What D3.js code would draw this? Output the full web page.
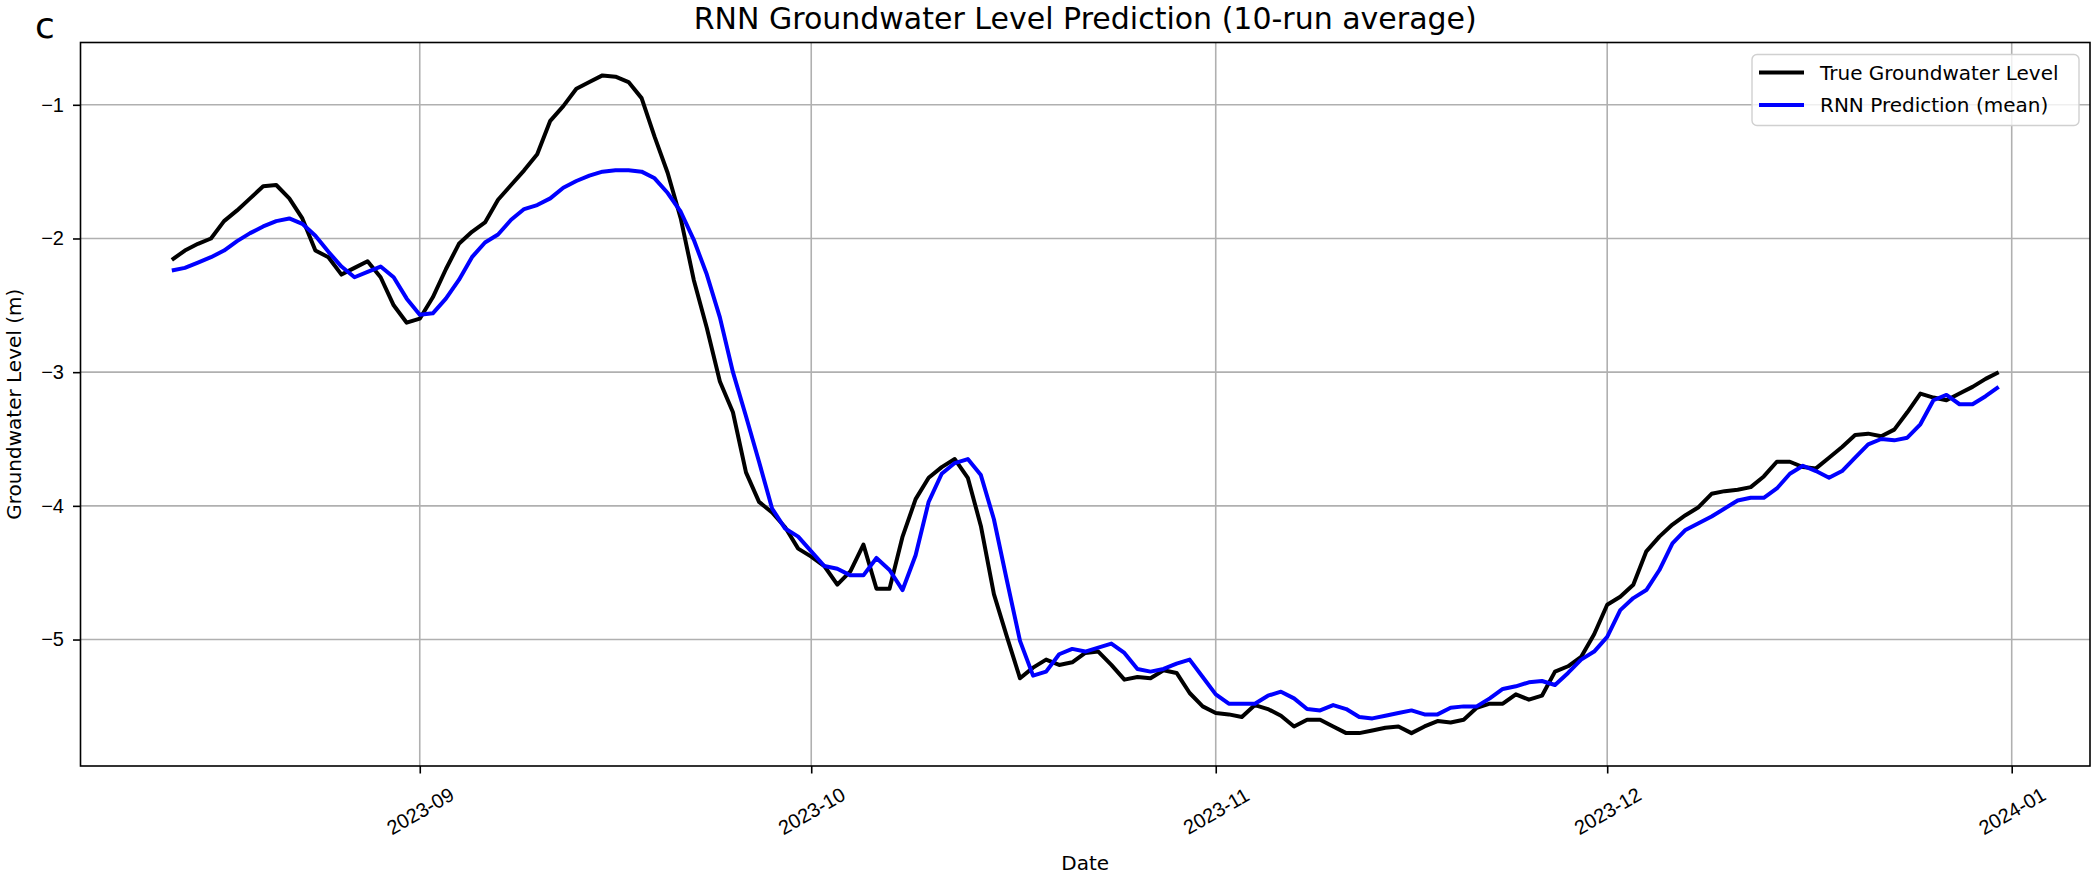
<!DOCTYPE html>
<html>
<head>
<meta charset="utf-8">
<script src="https://cdn.jsdelivr.net/npm/d3@7"></script>
<style>
  body { margin: 0; background: #fff; }
  svg { display: block; font-family: "DejaVu Sans", sans-serif; }
  .grid line { stroke: #b0b0b0; stroke-width: 1.6; }
  .axis path, .axis line { stroke: #000; stroke-width: 1.6; }
  .axis text { fill: #000; font-size: 20px; }
</style>
</head>
<body>
<svg class="chart"></svg>
<script>
// daily series, first day 2023-08-13
var startDate = new Date(2023, 7, 13);

var trueLevel = [
  -2.16, -2.09, -2.04, -2.00, -1.87, -1.79, -1.70, -1.61, -1.60, -1.70,
  -1.85, -2.09, -2.14, -2.27, -2.22, -2.17, -2.29, -2.50, -2.63, -2.60,
  -2.44, -2.23, -2.04, -1.95, -1.88, -1.71, -1.60, -1.49, -1.37, -1.12,
  -1.01, -0.88, -0.83, -0.78, -0.79, -0.83, -0.95, -1.24, -1.51, -1.85,
  -2.31, -2.67, -3.07, -3.30, -3.75, -3.97, -4.05, -4.16, -4.32, -4.38,
  -4.45, -4.59, -4.49, -4.29, -4.62, -4.62, -4.23, -3.95, -3.79, -3.71,
  -3.65, -3.79, -4.15, -4.66, -4.98, -5.29, -5.21, -5.15, -5.19, -5.17,
  -5.10, -5.09, -5.19, -5.30, -5.28, -5.29, -5.23, -5.25, -5.40, -5.50,
  -5.55, -5.56, -5.58, -5.49, -5.52, -5.57, -5.65, -5.60, -5.60, -5.65,
  -5.70, -5.70, -5.68, -5.66, -5.65, -5.70, -5.65, -5.61, -5.62, -5.60,
  -5.51, -5.48, -5.48, -5.41, -5.45, -5.42, -5.24, -5.20, -5.13, -4.96,
  -4.74, -4.68, -4.59, -4.34, -4.23, -4.14, -4.07, -4.01, -3.91, -3.89,
  -3.88, -3.86, -3.78, -3.67, -3.67, -3.71, -3.72, -3.64, -3.56, -3.47,
  -3.46, -3.48, -3.43, -3.30, -3.16, -3.19, -3.21, -3.16, -3.11, -3.05,
  -3.00
];

var rnnMean = [
  -2.24, -2.22, -2.18, -2.14, -2.09, -2.02, -1.96, -1.91, -1.87, -1.85,
  -1.89, -1.98, -2.10, -2.21, -2.29, -2.25, -2.21, -2.29, -2.45, -2.57,
  -2.56, -2.45, -2.31, -2.14, -2.03, -1.97, -1.86, -1.78, -1.75, -1.70,
  -1.62, -1.57, -1.53, -1.50, -1.49, -1.49, -1.50, -1.55, -1.66, -1.80,
  -2.01, -2.27, -2.59, -3.00, -3.33, -3.67, -4.02, -4.17, -4.23, -4.34,
  -4.45, -4.47, -4.52, -4.52, -4.39, -4.48, -4.63, -4.37, -3.97, -3.76,
  -3.68, -3.65, -3.77, -4.10, -4.56, -5.01, -5.27, -5.24, -5.11, -5.07,
  -5.09, -5.06, -5.03, -5.10, -5.22, -5.24, -5.22, -5.18, -5.15, -5.28,
  -5.41, -5.48, -5.48, -5.48, -5.42, -5.39, -5.44, -5.52, -5.53, -5.49,
  -5.52, -5.58, -5.59, -5.57, -5.55, -5.53, -5.56, -5.56, -5.51, -5.50,
  -5.50, -5.44, -5.37, -5.35, -5.32, -5.31, -5.34, -5.25, -5.15, -5.09,
  -4.98, -4.78, -4.69, -4.63, -4.48, -4.28, -4.18, -4.13, -4.08, -4.02,
  -3.96, -3.94, -3.94, -3.87, -3.76, -3.70, -3.74, -3.79, -3.74, -3.64,
  -3.54, -3.50, -3.51, -3.49, -3.39, -3.21, -3.17, -3.24, -3.24, -3.18,
  -3.11
];

var yTicks = [-1, -2, -3, -4, -5];
var xTicks = ['2023-09-01', '2023-10-01', '2023-11-01', '2023-12-01', '2024-01-01'];
var seriesNames = ['True Groundwater Level', 'RNN Prediction (mean)'];
var seriesColors = ['#000000', '#0000ff'];

var chartWidth = 2096;
var chartHeight = 874;
var margin = {top: 42.5, right: 6, bottom: 108, left: 80.5};
var plotW = chartWidth - margin.left - margin.right;
var plotH = chartHeight - margin.top - margin.bottom;

var dates = trueLevel.map((d, i) => d3.timeDay.offset(startDate, i));
var parseDay = d3.timeParse('%Y-%m-%d');

// matplotlib style 5% padding on both axes
var tExtent = d3.extent(dates);
var tPad = (tExtent[1] - tExtent[0]) * 0.05;
var x = d3.scaleTime()
    .domain([new Date(+tExtent[0] - tPad), new Date(+tExtent[1] + tPad)])
    .range([0, plotW]);

var vExtent = d3.extent(trueLevel.concat(rnnMean));
var vPad = (vExtent[1] - vExtent[0]) * 0.05;
var y = d3.scaleLinear()
    .domain([vExtent[0] - vPad, vExtent[1] + vPad])
    .range([plotH, 0]);

var chart = d3.select('.chart').attr('width', chartWidth).attr('height', chartHeight);

var g = chart.append('g')
    .attr('transform', 'translate(' + margin.left + ',' + margin.top + ')');

// grid
g.append('g').attr('class', 'grid')
    .selectAll('line.v')
    .data(xTicks.map(parseDay))
    .join('line')
    .attr('x1', d => x(d)).attr('x2', d => x(d))
    .attr('y1', 0).attr('y2', plotH);

g.append('g').attr('class', 'grid')
    .selectAll('line.h')
    .data(yTicks)
    .join('line')
    .attr('x1', 0).attr('x2', plotW)
    .attr('y1', d => y(d)).attr('y2', d => y(d));

// lines
var series = [trueLevel, rnnMean];
var line = d3.line()
    .x((d, i) => x(dates[i]))
    .y(d => y(d));

g.selectAll('path.series')
    .data(series)
    .join('path')
    .attr('class', 'series')
    .attr('fill', 'none')
    .attr('stroke', (d, i) => seriesColors[i])
    .attr('stroke-width', 4)
    .attr('stroke-linejoin', 'round')
    .attr('d', line);

// frame
g.append('rect')
    .attr('width', plotW).attr('height', plotH)
    .attr('fill', 'none')
    .attr('stroke', '#000')
    .attr('stroke-width', 1.6);

// axes
var fmtMinus = d => String(d).replace('-', '\u2212');

var yAxis = g.append('g').attr('class', 'axis')
    .call(d3.axisLeft(y).tickValues(yTicks).tickSize(7.5).tickPadding(9).tickFormat(fmtMinus));
yAxis.select('.domain').remove();

var xAxis = g.append('g').attr('class', 'axis')
    .attr('transform', 'translate(0,' + plotH + ')')
    .call(d3.axisBottom(x).tickValues(xTicks.map(parseDay)).tickSize(7.5)
        .tickFormat(d3.timeFormat('%Y-%m')));
xAxis.select('.domain').remove();
xAxis.selectAll('.tick text')
    .attr('y', 0).attr('dy', null)
    .attr('text-anchor', 'middle')
    .attr('dominant-baseline', 'central')
    .attr('transform', 'translate(0,45) rotate(-30)');

// labels
chart.append('text')
    .attr('x', margin.left + plotW / 2)
    .attr('y', 29)
    .attr('text-anchor', 'middle')
    .style('font-size', '30px')
    .text('RNN Groundwater Level Prediction (10-run average)');

chart.append('text')
    .attr('x', 35)
    .attr('y', 38)
    .style('font-size', '36px')
    .text('c');

chart.append('text')
    .attr('x', margin.left + plotW / 2)
    .attr('y', 870)
    .attr('text-anchor', 'middle')
    .style('font-size', '20px')
    .text('Date');

chart.append('text')
    .attr('transform', 'translate(21,' + (margin.top + plotH / 2) + ') rotate(-90)')
    .attr('text-anchor', 'middle')
    .style('font-size', '20px')
    .text('Groundwater Level (m)');

// legend
var legend = g.append('g')
    .attr('transform', 'translate(' + (plotW - 338) + ',12)');

legend.append('rect')
    .attr('width', 327).attr('height', 71)
    .attr('rx', 5)
    .attr('fill', '#fff').attr('fill-opacity', 0.8)
    .attr('stroke', '#d0d0d0').attr('stroke-width', 1.4);

var items = legend.selectAll('g.item')
    .data(seriesNames)
    .join('g')
    .attr('class', 'item')
    .attr('transform', (d, i) => 'translate(0,' + (18 + i * 32.5) + ')');

items.append('line')
    .attr('x1', 7).attr('x2', 52)
    .attr('stroke', (d, i) => seriesColors[i])
    .attr('stroke-width', 4);

items.append('text')
    .attr('x', 68)
    .attr('dominant-baseline', 'central')
    .style('font-size', '20px')
    .text(d => d);
</script>
</body>
</html>
